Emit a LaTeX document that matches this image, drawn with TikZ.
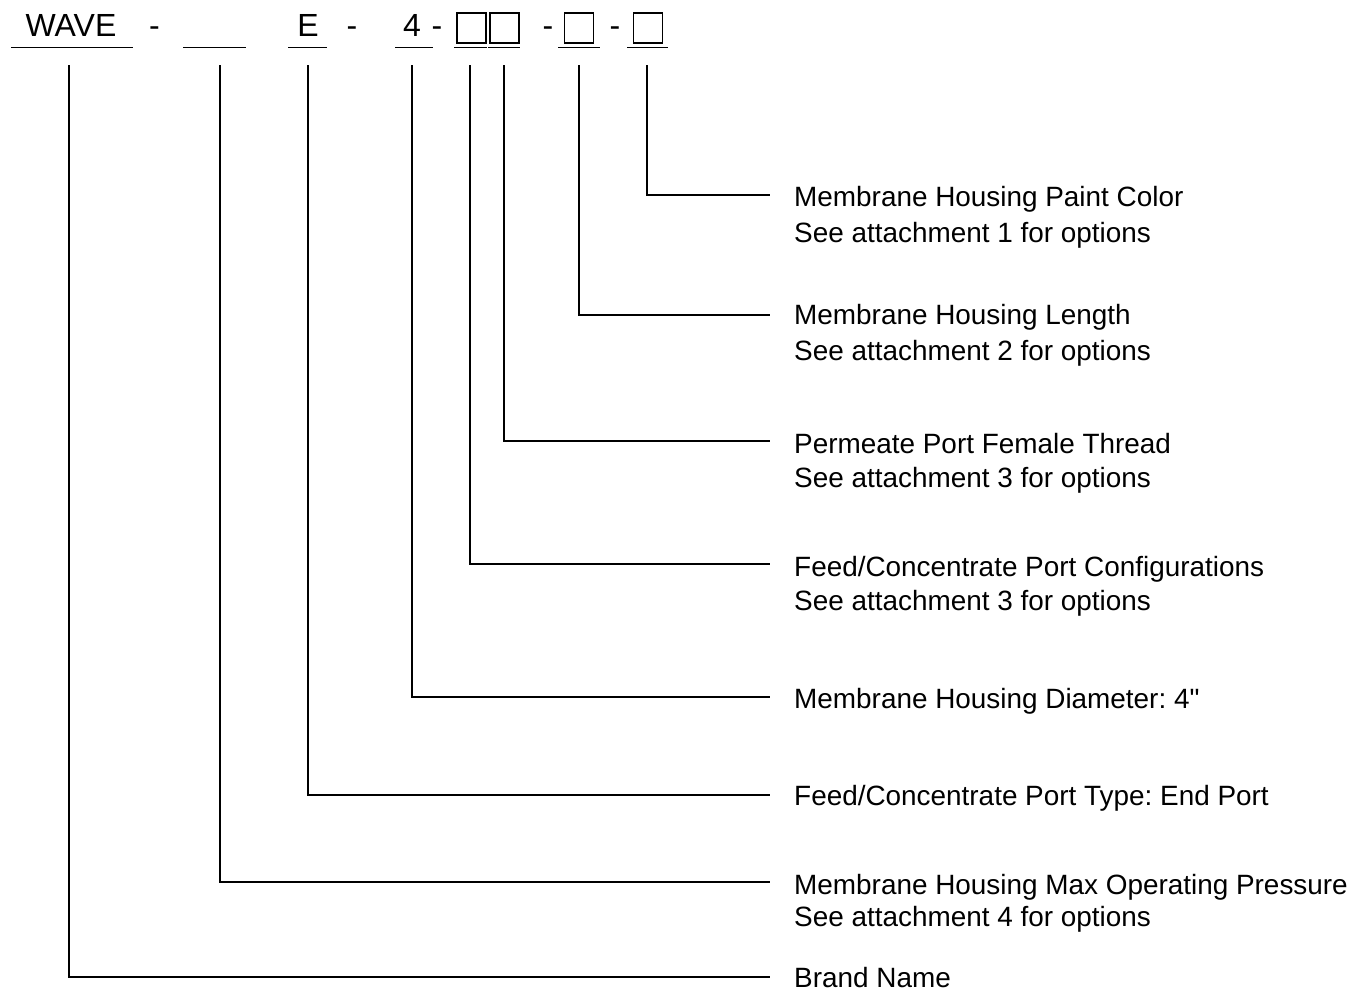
\documentclass[tikz,border=0pt]{standalone}
\usepackage{fontspec}
\setmainfont{Liberation Sans}
\frenchspacing
\begin{document}
\begin{tikzpicture}[x=1pt,y=-1pt,
  lbl/.style={anchor=base west,inner sep=0pt,font=\fontsize{27.9}{33}\selectfont},
  code/.style={anchor=base,inner sep=0pt,font=\fontsize{32}{36}\selectfont},
  uline/.style={line width=1.5pt},
  conn/.style={line width=1.3pt},
  cbox/.style={draw,line width=1.1pt,minimum width=29pt,minimum height=30pt,inner sep=0pt}]
\useasboundingbox (0,0) rectangle (1355,993);
% code line
\node[code] (wave) at (71,36.5) {WAVE};
\node[code] (d1) at (154.5,36.5) {-};
\node[code] (e) at (308,36.5) {E};
\node[code] (d2) at (352,36.5) {-};
\node[code] (four) at (412,36.5) {4};
\node[code] (d3) at (437,36.5) {-};
\node[code] (d4) at (548,36.5) {-};
\node[code] (d5) at (615,36.5) {-};
\node[cbox] (b1) at (471.5,28) {};
\node[cbox] (b2) at (504.5,28) {};
\node[cbox] (b3) at (579,28) {};
\node[cbox] (b4) at (648,28) {};
% underlines
\draw[uline] (11,47.5) -- (133,47.5);
\draw[uline] (183,47.5) -- (246,47.5);
\draw[uline] (288,47.5) -- (327,47.5);
\draw[uline] (395,47.5) -- (433,47.5);
\draw[uline] (454,47.5) -- (487,47.5);
\draw[uline] (488,47.5) -- (520,47.5);
\draw[uline] (558,47.5) -- (600,47.5);
\draw[uline] (627,47.5) -- (668,47.5);
% connector start points
\coordinate (s1) at (69,65);
\coordinate (s2) at (220,65);
\coordinate (s3) at (308,65);
\coordinate (s4) at (412,65);
\coordinate (s5) at (470,65);
\coordinate (s6) at (504,65);
\coordinate (s7) at (579,65);
\coordinate (s8) at (647,65);
% connector end points
\coordinate (e1) at (770,977);
\coordinate (e2) at (770,882);
\coordinate (e3) at (770,795);
\coordinate (e4) at (770,697);
\coordinate (e5) at (770,564);
\coordinate (e6) at (770,441);
\coordinate (e7) at (770,315);
\coordinate (e8) at (770,195);
\foreach \i in {1,...,8} \draw[conn] (s\i) |- (e\i);
% labels
\node[lbl] (l8a) at (794,206) {Membrane Housing Paint Color};
\node[lbl] (l8b) at (794,242) {See attachment 1 for options};
\node[lbl] (l7a) at (794,324) {Membrane Housing Length};
\node[lbl] (l7b) at (794,360) {See attachment 2 for options};
\node[lbl] (l6a) at (794,453) {Permeate Port Female Thread};
\node[lbl] (l6b) at (794,487) {See attachment 3 for options};
\node[lbl] (l5a) at (794,576) {Feed/Concentrate Port Configurations};
\node[lbl] (l5b) at (794,610) {See attachment 3 for options};
\node[lbl] (l4a) at (794,708) {Membrane Housing Diameter: 4\textquotedbl};
\node[lbl] (l3a) at (794,805) {Feed/Concentrate Port Type: End Port};
\node[lbl] (l2a) at (794,894) {Membrane Housing Max Operating Pressure};
\node[lbl] (l2b) at (794,926) {See attachment 4 for options};
\node[lbl] (l1a) at (794,987) {Brand Name};
\end{tikzpicture}
\end{document}
